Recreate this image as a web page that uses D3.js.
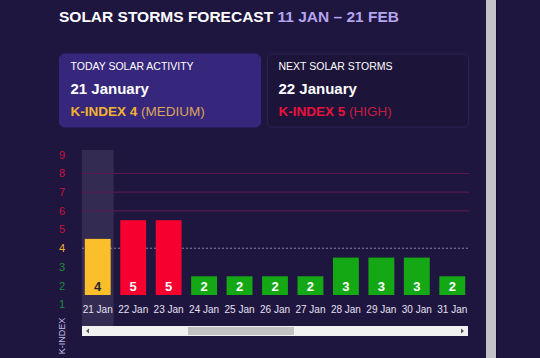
<!DOCTYPE html>
<html><head><meta charset="utf-8">
<script src="https://cdn.jsdelivr.net/npm/d3@7"></script>
<style>
html,body{margin:0;padding:0;background:#1f1640;overflow:hidden;}
svg{display:block;font-family:"Liberation Sans",Arial,sans-serif;}
</style></head>
<body>
<svg id="c" width="540" height="358"></svg>
<script>
const days = ["21 Jan","22 Jan","23 Jan","24 Jan","25 Jan","26 Jan","27 Jan","28 Jan","29 Jan","30 Jan","31 Jan"];
const kIndex = [4,5,5,2,2,2,2,3,3,3,2];
const yTicks = [1,2,3,4,5,6,7,8,9];
const gridLevels = [6,7,8];
const todayLabel = "21 January";
const todayK = 4, todayLevel = "MEDIUM";
const nextLabel = "22 January";
const nextK = 5, nextLevel = "HIGH";

const svg = d3.select("#c");
const W = 540, H = 358;
svg.append("rect").attr("width",W).attr("height",H).attr("fill","#1f1640");

// right side divider
svg.append("rect").attr("x",486).attr("y",0).attr("width",10).attr("height",H).attr("fill","#c3c2c8");
svg.append("rect").attr("x",496).attr("y",0).attr("width",1.5).attr("height",H).attr("fill","#140d2c");

// title
const t = svg.append("text").attr("x",59).attr("y",22).attr("font-size",15.5).attr("font-weight","bold");
t.append("tspan").attr("fill","#ffffff").text("SOLAR STORMS FORECAST ");
t.append("tspan").attr("fill","#b3a5ee").text("11 JAN \u2013 21 FEB");

function kColor(v){ return v>=5 ? "#f5002f" : (v===4 ? "#fbbf2c" : "#14a814"); }
function kTextColor(v){ return v>=5 ? "#e8123c" : (v===4 ? "#f2b230" : "#14a814"); }
function kSubColor(v){ return v>=5 ? "#c41d42" : (v===4 ? "#d9a55a" : "#3a9a3a"); }

// cards
function card(x, fill, stroke, title, date, k, lvl){
  const g = svg.append("g").attr("transform",`translate(${x},54)`);
  g.append("rect").attr("width",201).attr("height",73).attr("rx",5)
    .attr("fill",fill).attr("stroke",stroke).attr("stroke-width",1);
  g.append("text").attr("x",11).attr("y",15.5).attr("font-size",10.5).attr("fill","#ffffff").text(title);
  g.append("text").attr("x",11).attr("y",39.5).attr("font-size",15).attr("font-weight","bold").attr("fill","#ffffff").text(date);
  const tt = g.append("text").attr("x",11).attr("y",61.5).attr("font-size",13.5);
  tt.append("tspan").attr("font-weight","bold").attr("fill",kTextColor(k)).text("K-INDEX " + k + " ");
  tt.append("tspan").attr("fill",kSubColor(k)).text("(" + lvl + ")");
}
card(59.5, "#37277c", "#37277c", "TODAY SOLAR ACTIVITY", todayLabel, todayK, todayLevel);
card(267.5, "#1d1439", "#2c2252", "NEXT SOLAR STORMS", nextLabel, nextK, nextLevel);

// scales
const x = d3.scaleBand().domain(days).range([80,470]).paddingInner(0.27).paddingOuter(0.135);
const y = d3.scaleLinear().domain([1,9]).range([295, 295 - 8*18.7]);

// highlight of today's column
svg.append("rect").attr("x", x(days[0]) - 3).attr("y",150)
  .attr("width", x.bandwidth() + 6).attr("height",176).attr("fill","#ffffff").attr("fill-opacity",0.09);

// grid lines at label levels
svg.append("g").selectAll("line").data(gridLevels).join("line")
  .attr("x1",82).attr("x2",469)
  .attr("y1",d=>y(d-0.5)).attr("y2",d=>y(d-0.5))
  .attr("stroke","#5e1a50").attr("stroke-width",1);
svg.append("line").attr("x1",82).attr("x2",469).attr("y1",y(3.5)).attr("y2",y(3.5))
  .attr("stroke","#8a7fa8").attr("stroke-width",1).attr("stroke-dasharray","2,2");

// y axis labels
svg.append("g").selectAll("text").data(yTicks).join("text")
  .attr("x",62).attr("y",d=>y(d-0.5)).attr("dy","0.35em")
  .attr("text-anchor","middle").attr("font-size",11)
  .attr("fill",d=> d>=5 ? "#c8143e" : (d===4 ? "#f0b030" : "#1f8a3a"))
  .text(d=>d);

svg.append("text").attr("transform","translate(65,336) rotate(-90)")
  .attr("text-anchor","middle").attr("font-size",9).attr("fill","#c7bfe6").text("K-INDEX");

// bars
const bars = svg.append("g").selectAll("g").data(days).join("g");
bars.append("rect")
  .attr("x",d=>x(d)).attr("width",x.bandwidth())
  .attr("y",(d,i)=>y(kIndex[i])).attr("height",(d,i)=>y(1)-y(kIndex[i]))
  .attr("fill",(d,i)=>kColor(kIndex[i]));
bars.append("text")
  .attr("x",d=>x(d)+x.bandwidth()/2).attr("y",291)
  .attr("text-anchor","middle").attr("font-size",13).attr("font-weight","bold")
  .attr("fill",(d,i)=>kIndex[i]===4 ? "#2b2330" : "#ffffff")
  .text((d,i)=>kIndex[i]);

// x axis labels
const xAxis = d3.axisBottom(x).tickSize(0).tickPadding(0);
const xg = svg.append("g").attr("transform","translate(0,306)").call(xAxis);
xg.select(".domain").remove();
xg.selectAll("text").attr("font-size",10).attr("fill","#e4e0f0")
  .attr("font-family","Liberation Sans, Arial, sans-serif").attr("dy","0.71em");

// horizontal scrollbar
svg.append("rect").attr("x",82).attr("y",326).attr("width",386).attr("height",10).attr("fill","#f1f1f1");
svg.append("rect").attr("x",188).attr("y",327).attr("width",106).attr("height",8).attr("fill","#c2c2c2");
svg.append("path").attr("d","M86,331 L89,328.5 L89,333.5 Z").attr("fill","#555");
svg.append("path").attr("d","M464,331 L461,328.5 L461,333.5 Z").attr("fill","#555");
</script>
</body></html>
